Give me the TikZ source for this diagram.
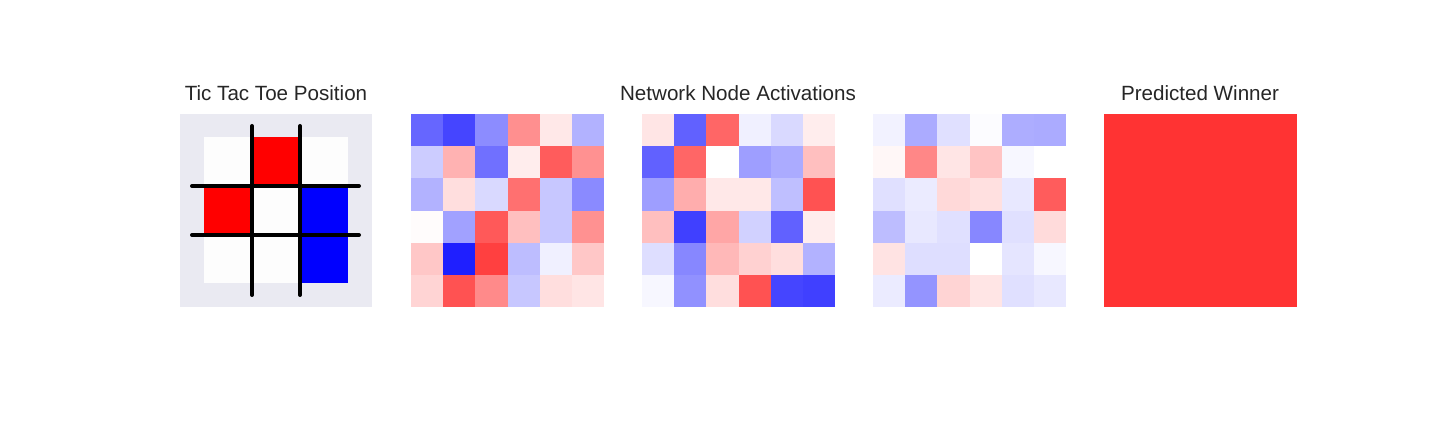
\documentclass[tikz,border=0pt]{standalone}
\usepackage{fontspec}
\setmainfont{Liberation Sans}
\definecolor{boardbg}{HTML}{EAEAF2}
\definecolor{titlegray}{HTML}{262626}
\definecolor{cellwhite}{HTML}{FDFDFD}
\tikzset{
  x=0.5pt, y=-0.5pt, % one unit is one pixel of the reference, y runs down
  panel title/.style={font=\fontsize{10.3}{12}\selectfont, text=titlegray, anchor=base, inner sep=0pt},
  grid line/.style={line width=2pt, line cap=round},
}
% #1 = left edge of the panel, #2 = rows of signed activations (percent)
\newcommand{\heatpanel}[2]{%
  \foreach \rowvals [count=\r] in {#2} {
    \foreach \v [count=\c] in \rowvals {
      \ifnum\v<0 \edef\cellcol{blue!\number-\v!white}\else\edef\cellcol{red!\v!white}\fi
      \fill[\cellcol] ({#1+(\c-1)*32.17},{114+(\r-1)*32.17}) rectangle ({#1+\c*32.17+0.2},{114+\r*32.17+0.2});
    }
  }
}

\begin{document}
\begin{tikzpicture}
  \useasboundingbox[fill=white] (0,0) rectangle (1440,432);

  % titles
  \node[panel title] (board title) at (276,101) {Tic Tac Toe Position};
  \node[panel title] (act title) at (738,101) {Network Node Activations};
  \node[panel title] (win title) at (1200,101) {Predicted Winner};

  % tic tac toe board
  \fill[boardbg] (180,114) rectangle (372,307);
  \fill[cellwhite] (204,137) rectangle (348,283);
  \fill[red] (252,137) rectangle (300,186);
  \fill[red] (204,186) rectangle (252,235);
  \fill[blue] (300,186) rectangle (348,283);
  \foreach \gx in {252,300}
    \draw[grid line] (\gx,126) -- (\gx,295);
  \foreach \gy in {186,235}
    \draw[grid line] (192,\gy) -- (359,\gy);

  % network node activations
  \heatpanel{411}{{-60,-73,-45,44,9,-30},{-20,30,-56,7,64,43},{-30,13,-15,56,-22,-46},{1,-37,65,25,-22,43},{22,-88,75,-26,-6,22},{17,68,46,-22,13,10}}
  \heatpanel{642}{{10,-62,60,-6,-15,7},{-62,60,0,-38,-33,25},{-38,32,9,9,-25,68},{25,-75,35,-18,-62,7},{-13,-47,28,18,13,-30},{-3,-43,13,68,-73,-75}}
  \heatpanel{873}{{-5,-33,-12,-1,-32,-33},{3,47,10,23,-3,0},{-12,-8,15,12,-9,64},{-26,-9,-12,-47,-12,14},{11,-13,-13,0,-10,-3},{-8,-42,17,10,-12,-9}}

  % predicted winner
  \fill[red!80!white] (1104,114) rectangle (1297,307);
\end{tikzpicture}
\end{document}
